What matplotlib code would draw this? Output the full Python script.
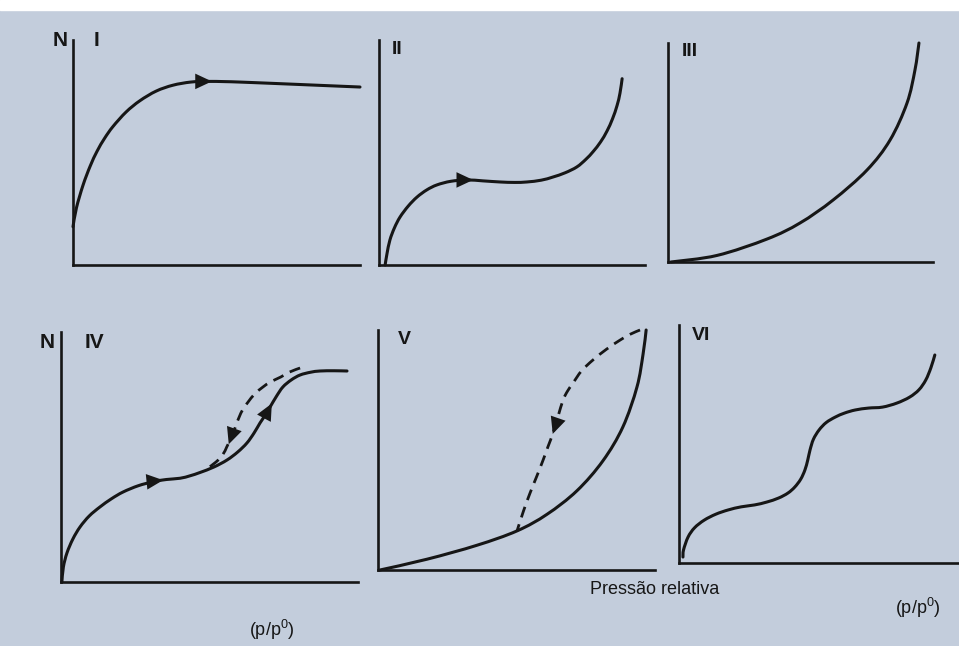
import numpy as np
import matplotlib
matplotlib.use("Agg")
import matplotlib.pyplot as plt
from matplotlib.path import Path
from matplotlib.patches import PathPatch, Rectangle

plt.rcParams['font.family'] = ['Liberation Sans', 'DejaVu Sans']

# isotherm shapes (x = p/p0, y = N, both 0..1 per panel)
type1_x = [0.0, 0.012, 0.035, 0.06, 0.084, 0.11, 0.139, 0.185, 0.233, 0.29, 0.348, 0.41, 0.467,
           0.53, 0.582, 0.70, 0.85, 1.0]
type1_y = [0.17, 0.254, 0.355, 0.44, 0.506, 0.563, 0.615, 0.68, 0.73, 0.773, 0.799, 0.813, 0.816,
           0.815, 0.813, 0.807, 0.799, 0.791]

type2_x = [0.023, 0.03, 0.041, 0.058, 0.079, 0.11, 0.143, 0.18, 0.218, 0.27, 0.331, 0.39, 0.455,
           0.51, 0.556, 0.61, 0.654, 0.70, 0.744, 0.778, 0.805, 0.833, 0.857, 0.878, 0.895, 0.906, 0.914]
type2_y = [0.0, 0.05, 0.111, 0.165, 0.213, 0.262, 0.302, 0.334, 0.356, 0.372, 0.378, 0.374, 0.369,
           0.367, 0.369, 0.377, 0.391, 0.41, 0.436, 0.47, 0.504, 0.547, 0.595, 0.65, 0.709, 0.764, 0.828]

type3_x = [0.011, 0.185, 0.374, 0.498, 0.623, 0.751, 0.838, 0.902, 0.932, 0.947]
type3_y = [0.0, 0.030, 0.105, 0.178, 0.283, 0.42, 0.557, 0.726, 0.877, 1.0]

type4_x = [0.003, 0.008, 0.02, 0.04, 0.064, 0.095, 0.131, 0.17, 0.209, 0.26, 0.31, 0.355, 0.401,
           0.435, 0.468, 0.515, 0.559, 0.595, 0.626, 0.65, 0.67, 0.688, 0.704, 0.725, 0.747, 0.775,
           0.805, 0.84, 0.872, 0.92, 0.963]
type4_y = [0.0, 0.06, 0.116, 0.172, 0.22, 0.264, 0.30, 0.333, 0.36, 0.385, 0.401, 0.41, 0.415,
           0.425, 0.438, 0.46, 0.488, 0.52, 0.556, 0.596, 0.636, 0.668, 0.70, 0.742, 0.78, 0.808,
           0.828, 0.839, 0.844, 0.845, 0.844]
type4_des_x = [0.805, 0.77, 0.74, 0.705, 0.68, 0.652, 0.63, 0.612, 0.60, 0.59, 0.581, 0.57, 0.558,
               0.545, 0.522, 0.49]
type4_des_y = [0.856, 0.84, 0.82, 0.80, 0.78, 0.752, 0.72, 0.69, 0.66, 0.63, 0.60, 0.57, 0.54,
               0.51, 0.48, 0.452]

type5_x = [0.007, 0.177, 0.357, 0.502, 0.61, 0.718, 0.812, 0.884, 0.935, 0.957, 0.968]
type5_y = [0.0, 0.045, 0.103, 0.163, 0.232, 0.33, 0.455, 0.596, 0.763, 0.90, 1.0]
type5_des_x = [0.946, 0.91, 0.874, 0.825, 0.776, 0.735, 0.704, 0.684, 0.668, 0.65, 0.632, 0.614,
               0.596, 0.573, 0.549, 0.525, 0.502]
type5_des_y = [1.0, 0.982, 0.958, 0.92, 0.875, 0.83, 0.779, 0.745, 0.708, 0.64, 0.571, 0.515,
               0.458, 0.39, 0.321, 0.245, 0.163]

type6_x = [0.014, 0.016, 0.032, 0.055, 0.089, 0.13, 0.174, 0.22, 0.267, 0.31, 0.352, 0.385, 0.409,
           0.43, 0.445, 0.455, 0.463, 0.475, 0.495, 0.52, 0.552, 0.585, 0.623, 0.67, 0.719, 0.77,
           0.815, 0.848, 0.872, 0.89, 0.904]
type6_y = [0.025, 0.055, 0.109, 0.148, 0.18, 0.205, 0.223, 0.236, 0.244, 0.256, 0.273, 0.294, 0.319,
           0.352, 0.391, 0.433, 0.475, 0.52, 0.559, 0.59, 0.613, 0.63, 0.643, 0.651, 0.655, 0.672,
           0.697, 0.728, 0.769, 0.82, 0.874]

# arrow heads: (x, y, direction x, direction y)
arrows1 = [(0.48, 0.816, 1, 0)]
arrows2 = [(0.35, 0.378, 1, 0)]
arrows4 = [(0.34, 0.407, 1, 0.12), (0.708, 0.71, 0.45, 1)]
arrows4_des = [(0.566, 0.555, -0.3, -1)]
arrows5_des = [(0.632, 0.571, -0.3, -1)]

W, H = 959, 646
INK = '#161616'


def smooth_path(xs, ys):
    # Catmull-Rom through the read points, drawn as cubic beziers
    p = np.column_stack([xs, ys])
    verts = [p[0]]
    codes = [Path.MOVETO]
    for i in range(len(p) - 1):
        p0 = p[i - 1] if i > 0 else p[i]
        p1, p2 = p[i], p[i + 1]
        p3 = p[i + 2] if i + 2 < len(p) else p[i + 1]
        verts += [p1 + (p2 - p0) / 6, p2 - (p3 - p1) / 6, p2]
        codes += [Path.CURVE4] * 3
    return Path(verts, codes)


def panel(box, xs, ys, des=None, arrows=(), des_arrows=()):
    left, right, bottom, top = box
    ax = fig.add_axes([left / W, 1 - bottom / H, (right - left) / W, (bottom - top) / H])
    ax.set_xlim(0, 1)
    ax.set_ylim(0, 1)
    ax.patch.set_visible(False)
    for s in ['top', 'right']:
        ax.spines[s].set_visible(False)
    for s in ['left', 'bottom']:
        ax.spines[s].set_linewidth(1.9)
        ax.spines[s].set_color(INK)
    ax.set_xticks([])
    ax.set_yticks([])
    ax.add_patch(PathPatch(smooth_path(xs, ys), fill=False, lw=2.2, ec=INK,
                           capstyle='round', clip_on=False))
    if des is not None:
        ax.add_patch(PathPatch(smooth_path(*des), fill=False, lw=2.0, ec=INK,
                               ls=(0, (4, 2.6)), clip_on=False))
    for x, y, dx, dy in list(arrows) + list(des_arrows):
        ax.annotate('', xy=(x + dx * 0.004, y + dy * 0.004), xytext=(x - dx * 0.02, y - dy * 0.02),
                    arrowprops=dict(arrowstyle='-|>,head_length=0.6,head_width=0.28', color=INK,
                                    lw=0, mutation_scale=20, shrinkA=0, shrinkB=0))
    return ax


fig = plt.figure(figsize=(W / 100, H / 100), dpi=100, facecolor='#c3cddc')
fig.add_artist(Rectangle((0, 1 - 10 / H), 1, 10 / H, transform=fig.transFigure,
                         color='white', zorder=0))

panel((73, 360, 265, 40), type1_x, type1_y, arrows=arrows1)
panel((379, 645, 265, 40), type2_x, type2_y, arrows=arrows2)
panel((668, 933, 262, 43), type3_x, type3_y)
panel((61, 358, 582, 332), type4_x, type4_y, des=(type4_des_x, type4_des_y),
      arrows=arrows4, des_arrows=arrows4_des)
panel((378, 655, 570, 330), type5_x, type5_y, des=(type5_des_x, type5_des_y),
      des_arrows=arrows5_des)
panel((679, 962, 563, 325), type6_x, type6_y)


def label(x, y, s, size=14, weight='bold', ha='left'):
    fig.text(x / W, 1 - y / H, s, fontsize=size, fontweight=weight, ha=ha, va='center', color=INK)


label(53, 41, 'N', size=15)
label(94, 41, 'I', size=15)
label(392, 50, 'II')
label(682, 52, 'III')
label(40, 342, 'N', size=15)
label(85, 342, 'IV', size=15)
label(398, 340, 'V')
label(692, 336, 'VI')
label(655, 590, 'Pressão relativa', size=13, weight='normal', ha='center')
label(272, 630, '(p/p$^\\mathregular{0}$)', size=13, weight='normal', ha='center')
label(918, 608, '(p/p$^\\mathregular{0}$)', size=13, weight='normal', ha='center')

fig.savefig('out.png', dpi=100, facecolor=fig.get_facecolor())
